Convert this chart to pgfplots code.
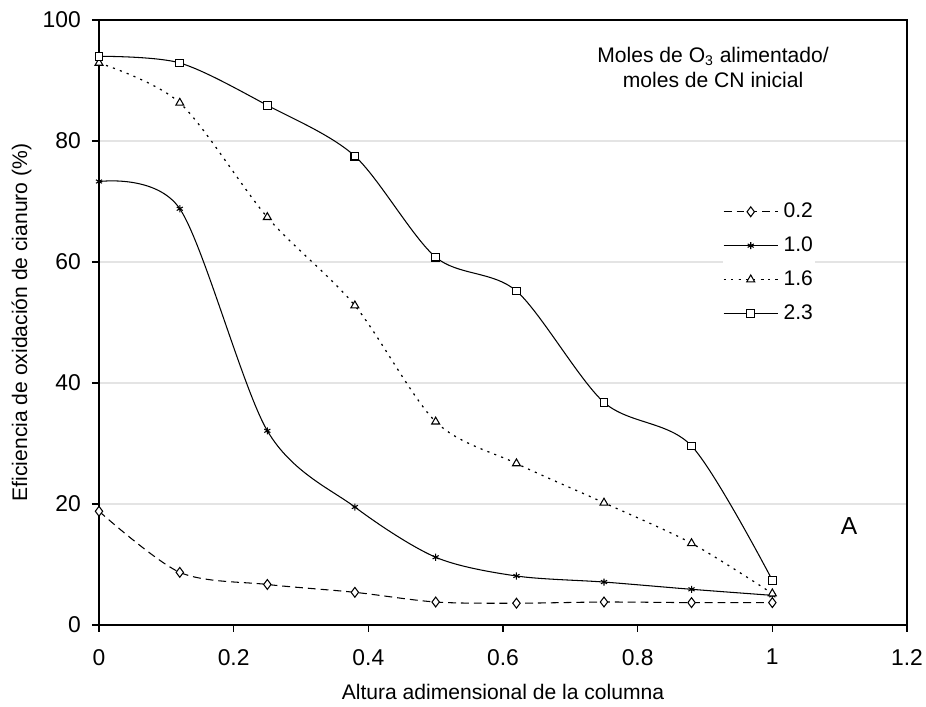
\documentclass[border=0pt]{standalone}
\usepackage{pgfplots}
\pgfplotsset{compat=1.18}
\usepackage{fontspec}
\setmainfont{Liberation Sans}
\usetikzlibrary{plotmarks}

\definecolor{gridgray}{RGB}{228,228,228}

\begin{document}
\begin{tikzpicture}
\begin{axis}[
  scale only axis,
  width=16.16cm, height=12.1cm,
  xmin=0, xmax=1.2, ymin=0, ymax=100,
  xtick={0,0.2,...,1.2},
  ytick={0,20,...,100},
  xticklabels={0,0.2,0.4,0.6,0.8,1,1.2},
  tick align=outside,
  tick pos=left,
  major tick length=0.14cm,
  ymajorgrids,
  grid style={gridgray, line width=0.8pt},
  axis line style={line width=1pt},
  every tick/.style={black, line width=0.9pt},
  /pgf/number format/assume math mode=true,
  tick label style={font=\fontsize{13}{15}\selectfont},
  xticklabel style={yshift=-0.22cm},
  yticklabel style={xshift=-0.1cm},
  label style={font=\fontsize{12}{14}\selectfont},
  xlabel={Altura adimensional de la columna},
  ylabel={Eficiencia de oxidación de cianuro (\%)},
  xlabel style={at={([yshift=-1.34cm]axis description cs:0.5,0)}, anchor=center},
  ylabel style={at={([xshift=-1.55cm]axis description cs:0,0.5)}, anchor=center, rotate=0},
  legend style={draw=none, fill=white, at={(axis description cs:0.772,0.599)}, anchor=west,
    inner sep=0pt, nodes={inner sep=1pt},
    font=\fontsize{12}{14}\selectfont, row sep=7.4pt,
    /tikz/every odd column/.style={column sep=2pt}},
  legend cell align=left,
  legend image code/.code={
    \draw[mark repeat=2,mark phase=2] plot coordinates {(0cm,0cm) (0.54cm,0cm) (1.08cm,0cm)};},
  every axis plot/.append style={black, line width=0.6pt, smooth, tension=0.5,
    mark options={solid, fill=white, line width=0.6pt}},
]
\addplot[dash pattern=on 4.5pt off 2.8pt, mark=diamond*, mark size=2.8pt] coordinates {
  (0,18.8) (0.12,8.7) (0.25,6.7) (0.38,5.4) (0.5,3.8) (0.62,3.6) (0.75,3.8) (0.88,3.7) (1.0,3.7)};
\addlegendentry{0.2}
\addplot[solid, mark=asterisk, mark size=2pt] coordinates {
  (0,73.3) (0.12,68.8) (0.25,32.1) (0.38,19.5) (0.5,11.2) (0.62,8.1) (0.75,7.1) (0.88,5.9) (1.0,4.9)};
\addlegendentry{1.0}
\addplot[dash pattern=on 1.2pt off 3pt, line width=0.7pt, mark=triangle*, mark size=2.6pt] coordinates {
  (0,92.9) (0.12,86.3) (0.25,67.4) (0.38,52.8) (0.5,33.6) (0.62,26.7) (0.75,20.2) (0.88,13.5) (1.0,5.2)};
\addlegendentry{1.6}
\addplot[solid, mark=square*, mark size=2.2pt] coordinates {
  (0,94) (0.12,92.9) (0.25,85.9) (0.38,77.5) (0.5,60.8) (0.62,55.2) (0.75,36.8) (0.88,29.6) (1.0,7.4)};
\addlegendentry{2.3}
\node[font=\fontsize{12}{14.2}\selectfont, align=center] at (axis cs:0.912,92.2)
  {Moles de O\textsubscript{3} alimentado/\\moles de CN inicial};
\node[font=\fontsize{14}{16}\selectfont] at (axis cs:1.114,16.3) {A};
\end{axis}
\pgfresetboundingbox
\path[use as bounding box] ([shift={(-1.98cm,-1.64cm)}]current axis.south west)
  rectangle ([shift={(0.38cm,0.40cm)}]current axis.north east);
\end{tikzpicture}
\end{document}
